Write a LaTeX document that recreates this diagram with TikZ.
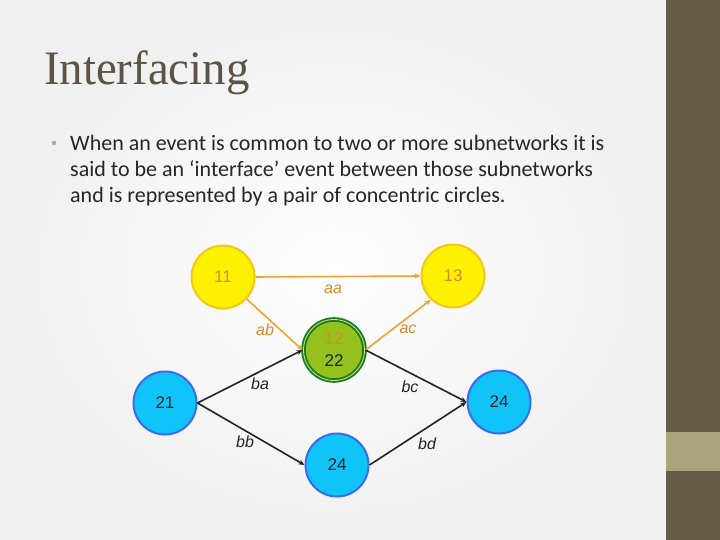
\documentclass[tikz,border=0pt]{standalone}
\usepackage{fontspec}
\setmainfont{Liberation Sans}
\newfontfamily\titlefont{Liberation Serif}
\newfontfamily\bodyfont{Carlito}
\usetikzlibrary{arrows.meta}
\definecolor{barbrown}{HTML}{655E47}
\definecolor{barlight}{HTML}{A8A57E}
\definecolor{titlecol}{HTML}{5B5444}
\definecolor{bodycol}{HTML}{262626}
\definecolor{bulletcol}{HTML}{A9AD92}
\definecolor{yfill}{HTML}{FFF200}
\definecolor{ydraw}{HTML}{F5C518}
\definecolor{otext}{HTML}{D98A2B}
\definecolor{oline}{HTML}{F0A32E}
\definecolor{bfill}{HTML}{10C4FA}
\definecolor{bdraw}{HTML}{3A6BF0}
\definecolor{gfill}{HTML}{94C11C}
\definecolor{gdraw}{HTML}{1E7D1E}
\definecolor{dline}{HTML}{222222}
\tikzset{
  ynode/.style={circle, minimum size=63pt, inner sep=0pt, fill=yfill, draw=ydraw, line width=2pt, text=otext, font=\fontsize{17}{17}\selectfont},
  bnode/.style={circle, minimum size=63pt, inner sep=0pt, fill=bfill, draw=bdraw, line width=2pt, text=dline, font=\fontsize{17}{17}\selectfont},
  gnode/.style={circle, minimum size=61pt, inner sep=0pt, fill=gfill, draw=gdraw, double=gfill!50!white, double distance=0.8pt, line width=1.9pt, font=\fontsize{17}{17}\selectfont},
  oedge/.style={draw=oline, line width=1.6pt, -{Stealth[length=6pt,width=5pt]}},
  dedge/.style={draw=dline, line width=1.6pt, -{Stealth[length=6pt,width=5pt]}},
  olab/.style={text=otext, font=\fontsize{16}{16}\selectfont\itshape},
  dlab/.style={text=dline, font=\fontsize{16}{16}\selectfont\itshape},
  bodyline/.style={anchor=base west, inner sep=0pt, text=bodycol, font=\bodyfont\fontsize{22}{26}\selectfont}
}
\begin{document}
\begin{tikzpicture}[x=1pt,y=-1pt]
\useasboundingbox (0,0) rectangle (720,540);
\shade[inner color=white, outer color=gray!12] (0,0) rectangle (666,540);
\fill[barbrown] (666,0) rectangle (720,540);
\fill[barlight] (666,432) rectangle (720,471);
\node[anchor=base west, inner sep=0pt, text=titlecol, font=\titlefont\fontsize{48}{48}\selectfont, xscale=0.975] (title) at (44,84.5) {Interfacing};
\fill[bulletcol] (54,143) circle (2.2pt);
\node[bodyline] (body1) at (70,151) {When an event is common to two or more subnetworks it is};
\node[bodyline] (body2) at (70,177) {said to be an ‘interface’ event between those subnetworks};
\node[bodyline] (body3) at (70,203) {and is represented by a pair of concentric circles.};
% nodes
\node[ynode] (n11) at (223,277) {11};
\node[ynode] (n13) at (453,276) {13};
\node[gnode] (n12) at (334,350) {};
\node[text=otext, font=\fontsize{17}{17}\selectfont] (t12) at (334,339) {12};
\node[text=dline, font=\fontsize{17}{17}\selectfont] (t22) at (334,361) {22};
\node[bnode] (n21) at (165,403) {21};
\node[bnode] (n24r) at (499,402) {24};
\node[bnode] (n24b) at (337,465) {24};
% edges
\draw[oedge] (n11.east) -- (n13.west);
\draw[oedge] (n11.-43) -- (n12.west);
\draw[oedge] (n12.east) -- (n13.227);
\draw[dedge] (n21.east) -- (n12.west);
\draw[dedge] (n21.east) -- (n24b.west);
\draw[dedge] (n12.east) -- (n24r.west);
\draw[dedge] (n24b.east) -- (n24r.west);
% labels
\node[olab] (laa) at (333,289) {aa};
\node[olab] (lab) at (265,330) {ab};
\node[olab] (lac) at (408,329) {ac};
\node[dlab] (lba) at (260,384) {ba};
\node[dlab] (lbb) at (245,442) {bb};
\node[dlab] (lbc) at (410,387) {bc};
\node[dlab] (lbd) at (427,444) {bd};
\end{tikzpicture}
\end{document}
